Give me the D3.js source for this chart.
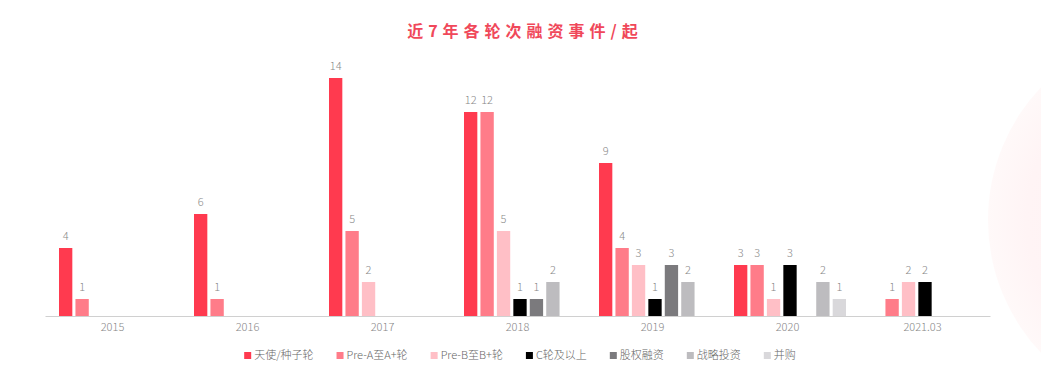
<!DOCTYPE html>
<html><head><meta charset="utf-8">
<script src="https://cdn.jsdelivr.net/npm/d3@7/dist/d3.min.js"></script>
<style>
html,body{margin:0;padding:0;background:#fff;}
svg{display:block;font-family:"Noto Sans CJK SC","Noto Sans",sans-serif;}
</style></head>
<body>
<svg id="chart" width="1041" height="381"></svg>
<script>
const categories = ["2015","2016","2017","2018","2019","2020","2021.03"];
const seriesNames = ["天使/种子轮","Pre-A至A+轮","Pre-B至B+轮","C轮及以上","股权融资","战略投资","并购"];
const angel   = [4, 6, 14, 12, 9, 3, 0];
const preA    = [1, 1, 5, 12, 4, 3, 1];
const preB    = [0, 0, 2, 5, 3, 1, 2];
const roundC  = [0, 0, 0, 1, 1, 3, 2];
const equity  = [0, 0, 0, 1, 3, 0, 0];
const strategic = [0, 0, 0, 2, 2, 2, 0];
const mna     = [0, 0, 0, 0, 0, 1, 0];
const seriesValues = [angel, preA, preB, roundC, equity, strategic, mna];
const colors = ["#ff3a4f","#ff7c89","#ffbfc6","#000000","#7b7a7d","#bdbcbf","#d9d8db"];
const title = "近7年各轮次融资事件/起";

const svg = d3.select("#chart");
const W = 1041, H = 381;
const margin = {left:45, right:51, top:78, bottom:65};
const baseY = 316;

// background decorative circle
const defs = svg.append("defs");
const rg = defs.append("radialGradient").attr("id","bgc");
rg.append("stop").attr("offset","0%").attr("stop-color","#ffeff1");
rg.append("stop").attr("offset","80%").attr("stop-color","#fff4f5");
rg.append("stop").attr("offset","100%").attr("stop-color","#fff9f9");
svg.append("circle").attr("cx",1181).attr("cy",220).attr("r",193).attr("fill","url(#bgc)");

const x0 = d3.scaleBand().domain(categories).range([margin.left, W - margin.right]).paddingInner(0).paddingOuter(0);
const x1 = d3.scaleBand().domain(d3.range(seriesNames.length)).range([14, 14 + 16*7]).paddingInner(0.19);
const y = d3.scaleLinear().domain([0,14]).range([baseY, margin.top]);

// title
svg.append("text").attr("x", 525).attr("y", 37).attr("text-anchor","middle")
  .attr("fill","#f0485a").attr("font-size",16).attr("font-weight","bold")
  .attr("letter-spacing","5px").text(title);

// bars
const groups = svg.append("g").selectAll("g").data(categories).join("g")
  .attr("transform", d => `translate(${x0(d)},0)`);

groups.each(function(cat, ci){
  const g = d3.select(this);
  const items = seriesValues.map((vals, si) => ({si, v: vals[ci]})).filter(d => d.v > 0);
  g.selectAll("rect").data(items).join("rect")
    .attr("x", d => x1(d.si)).attr("width", x1.bandwidth())
    .attr("y", d => y(d.v)).attr("height", d => baseY - y(d.v))
    .attr("fill", d => colors[d.si]);
  g.selectAll("text").data(items).join("text")
    .attr("x", d => x1(d.si) + x1.bandwidth()/2).attr("y", d => y(d.v) - 8)
    .attr("text-anchor","middle").attr("font-size",11).attr("font-weight",300).attr("fill","#888")
    .text(d => d.v);
});

// axis
const axis = d3.axisBottom(x0).tickSize(0).tickPadding(7);
const ag = svg.append("g").attr("transform",`translate(0,${baseY})`).call(axis);
ag.select(".domain").attr("stroke","#d0d0d0");
ag.selectAll("text").attr("font-size",11).attr("font-weight",300).attr("fill","#888").attr("font-family","\"Noto Sans CJK SC\",\"Noto Sans\",sans-serif");

// legend
const lg = svg.append("g");
let cx = 0;
seriesNames.forEach((name, i) => {
  const it = lg.append("g");
  it.append("rect").attr("x",0).attr("y",-7).attr("width",7).attr("height",7).attr("fill",colors[i]);
  const t = it.append("text").attr("x",10).attr("y",0).attr("font-size",11).attr("font-weight",300).attr("fill","#666").text(name);
  const w = t.node().getComputedTextLength();
  it.attr("transform",`translate(${cx},0)`);
  cx += 10 + w + 23;
});
const total = cx - 23;
lg.attr("transform",`translate(${520 - total/2},359)`);
</script>
</body></html>
